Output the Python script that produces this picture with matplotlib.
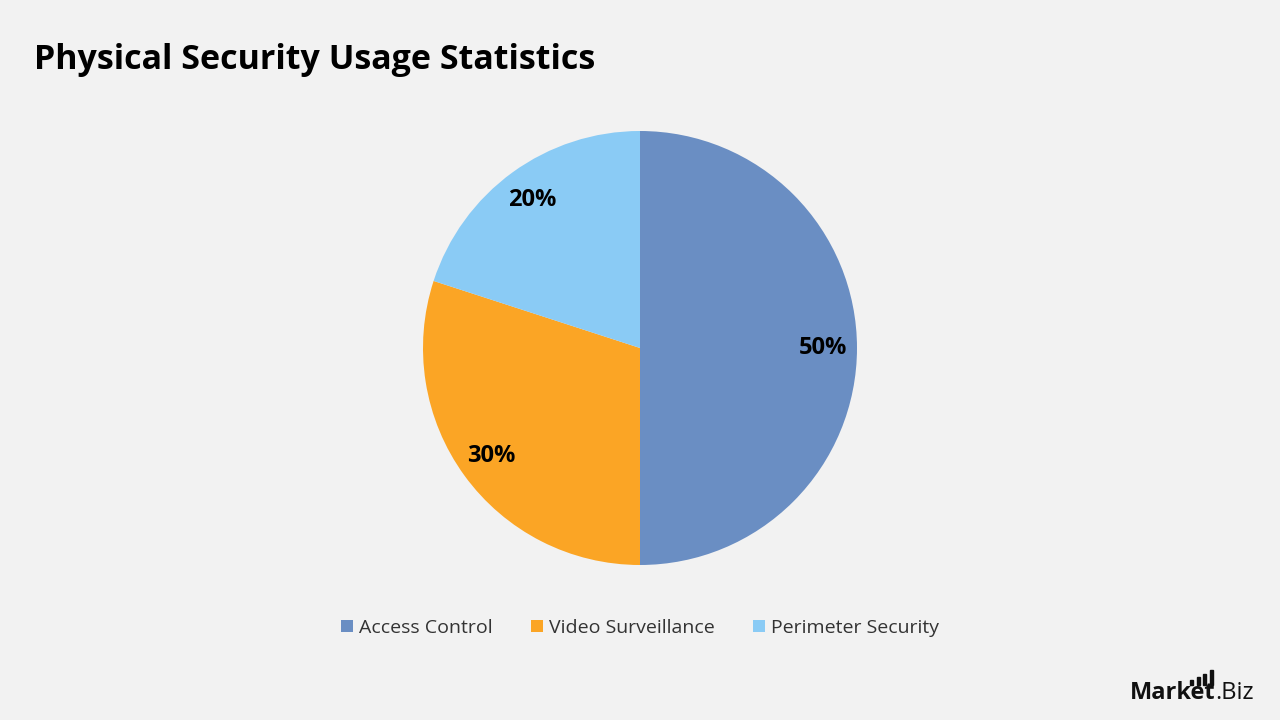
import matplotlib.pyplot as plt
from matplotlib.patches import Rectangle

# Chart data
categories = ['Access Control', 'Video Surveillance', 'Perimeter Security']
shares = [50, 30, 20]
colours = ['#6A8EC3', '#FBA525', '#8ACBF5']

bg = '#F2F2F2'
plt.rcParams['font.family'] = ['Open Sans', 'DejaVu Sans']

fig = plt.figure(figsize=(12.8, 7.2), dpi=100, facecolor=bg)

# Pie axes: centre (640, 348) px, radius 217 px
r = 217
ax = fig.add_axes([(640 - r) / 1280, (720 - 348 - r) / 720, 2 * r / 1280, 2 * r / 720])
ax.set_facecolor(bg)
wedges, texts, autotexts = ax.pie(
    shares, colors=colours, startangle=90, counterclock=False,
    autopct='%d%%', pctdistance=0.845, radius=1,
    wedgeprops=dict(linewidth=0),
    textprops=dict(fontsize=17, fontweight='bold', color='black'),
)
ax.set_xlim(-1, 1)
ax.set_ylim(-1, 1)
ax.set_aspect('equal')
ax.axis('off')

# Title
fig.text(34 / 1280, 1 - 60 / 720, 'Physical Security Usage Statistics',
         fontsize=24.5, fontweight='bold', ha='left', va='center')

# Legend
leg = fig.legend(wedges, categories, loc='center', bbox_to_anchor=(640 / 1280, 1 - 628 / 720),
                 ncol=3, frameon=False, fontsize=14, handlelength=0.6, handleheight=0.6,
                 handletextpad=0.3, columnspacing=2.0)
for t in leg.get_texts():
    t.set_color('#333333')

# Logo
renderer = fig.canvas.get_renderer()
t1 = fig.text(1130 / 1280, 1 - 693 / 720, 'Market', fontsize=17, fontweight='bold',
              ha='left', va='center', color='#111111')
x_end = t1.get_window_extent(renderer).x1
fig.text(x_end / 1280, 1 - 693 / 720, '.Biz', fontsize=17, ha='left', va='center',
         color='#111111')
for i, h in enumerate([5, 8, 11, 15]):
    x0 = 1190 + i * 6.5
    fig.patches.append(Rectangle((x0 / 1280, (720 - 685) / 720), 3 / 1280, h / 720,
                                 transform=fig.transFigure, color='#111111'))

fig.savefig('out.png', dpi=100, facecolor=bg)
